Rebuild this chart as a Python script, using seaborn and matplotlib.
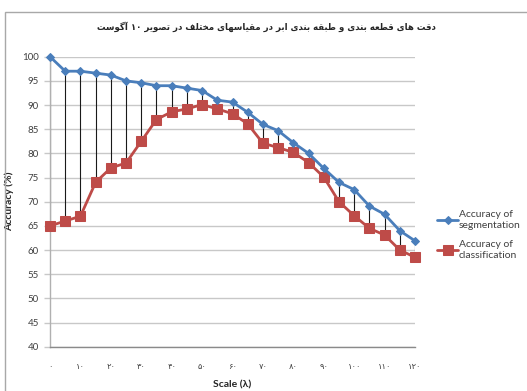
import matplotlib
matplotlib.use("Agg")
import matplotlib.pyplot as plt
from matplotlib.patches import Rectangle
import seaborn as sns

# Scale values (lambda) and the two accuracy series (%)
scale = [0, 5, 10, 15, 20, 25, 30, 35, 40, 45, 50, 55, 60,
         65, 70, 75, 80, 85, 90, 95, 100, 105, 110, 115, 120]
seg_acc = [100, 97, 97, 96.6, 96.2, 95.0, 94.6, 94.0, 94.0, 93.5, 93.0, 91.0, 90.6,
           88.5, 86.0, 84.7, 82.2, 80.0, 76.9, 74.0, 72.5, 69.1, 67.4, 64.0, 61.9]
cls_acc = [65, 66, 67, 74, 77, 78, 82.5, 87, 88.6, 89.2, 90.1, 89.2, 88.2,
           86.1, 82.1, 81.2, 80.2, 78.1, 75.1, 70.0, 67.1, 64.5, 63.1, 60.0, 58.5]

x_ticks = [0, 10, 20, 30, 40, 50, 60, 70, 80, 90, 100, 110, 120]
y_ticks = [40, 45, 50, 55, 60, 65, 70, 75, 80, 85, 90, 95, 100]

title_text = "دقت های قطعه بندی و طبقه بندی ابر در مقیاسهای مختلف در تصویر ۱۰ آگوست"
seg_label = "Accuracy of\nsegmentation"
cls_label = "Accuracy of\nclassification"
x_label = "Scale (λ)"
y_label = "Accuracy (%)"

# --- minimal Arabic-script shaping (isolated, final, initial, medial) ---
FORMS = {
    'ا': ('\uFE8D', '\uFE8E', None, None),
    'آ': ('\uFE81', '\uFE82', None, None),
    'ب': ('\uFE8F', '\uFE90', '\uFE91', '\uFE92'),
    'ت': ('\uFE95', '\uFE96', '\uFE97', '\uFE98'),
    'خ': ('\uFEA5', '\uFEA6', '\uFEA7', '\uFEA8'),
    'د': ('\uFEA9', '\uFEAA', None, None),
    'ر': ('\uFEAD', '\uFEAE', None, None),
    'س': ('\uFEB1', '\uFEB2', '\uFEB3', '\uFEB4'),
    'ص': ('\uFEB9', '\uFEBA', '\uFEBB', '\uFEBC'),
    'ط': ('\uFEC1', '\uFEC2', '\uFEC3', '\uFEC4'),
    'ع': ('\uFEC9', '\uFECA', '\uFECB', '\uFECC'),
    'ف': ('\uFED1', '\uFED2', '\uFED3', '\uFED4'),
    'ق': ('\uFED5', '\uFED6', '\uFED7', '\uFED8'),
    'ل': ('\uFEDD', '\uFEDE', '\uFEDF', '\uFEE0'),
    'م': ('\uFEE1', '\uFEE2', '\uFEE3', '\uFEE4'),
    'ن': ('\uFEE5', '\uFEE6', '\uFEE7', '\uFEE8'),
    'ه': ('\uFEE9', '\uFEEA', '\uFEEB', '\uFEEC'),
    'و': ('\uFEED', '\uFEEE', None, None),
    'ی': ('\uFBFC', '\uFBFD', '\uFBFE', '\uFBFF'),
    'ک': ('\uFB8E', '\uFB8F', '\uFB90', '\uFB91'),
    'گ': ('\uFB92', '\uFB93', '\uFB94', '\uFB95'),
}
DIGITS = '۰۱۲۳۴۵۶۷۸۹'


def shape_word(word):
    out = []
    for i, ch in enumerate(word):
        if ch not in FORMS:
            out.append(ch)
            continue
        iso, fin, ini, med = FORMS[ch]
        prev = word[i - 1] if i > 0 else None
        nxt = word[i + 1] if i + 1 < len(word) else None
        joins_prev = prev in FORMS and FORMS[prev][2] is not None
        joins_next = nxt in FORMS and ini is not None
        if joins_prev and joins_next:
            out.append(med)
        elif joins_prev:
            out.append(fin)
        elif joins_next:
            out.append(ini)
        else:
            out.append(iso)
    return ''.join(out)


def rtl(text):
    words = []
    for w in reversed(text.split(' ')):
        s = shape_word(w)
        if not all(c in DIGITS for c in w):
            s = s[::-1]
        words.append(s)
    return ' '.join(words)


def persian_num(n):
    return str(n).translate(str.maketrans('0123456789', DIGITS))


sns.set_style("white")
plt.rcParams['font.family'] = ['Lato', 'DejaVu Sans']

W, H = 527, 391
fig = plt.figure(figsize=(W / 100, H / 100), dpi=100)
ax = fig.add_axes([50 / W, 1 - 346.7 / H, 365 / W, 290 / H])

blue = '#4A7EBB'
red = '#BE4B48'

# high-low connectors between the two series
ax.vlines(scale, cls_acc, seg_acc, colors='#1a1a1a', linewidth=0.8, zorder=2)

sns.lineplot(x=scale, y=seg_acc, ax=ax, color=blue, linewidth=2.0,
             marker='D', markersize=4.5, markeredgecolor=blue,
             label=seg_label, zorder=4, clip_on=False)
sns.lineplot(x=scale, y=cls_acc, ax=ax, color=red, linewidth=2.0,
             marker='s', markersize=7, markeredgecolor=red,
             label=cls_label, zorder=3, clip_on=False)

ax.set_xlim(0, 120)
ax.set_ylim(40, 100)
ax.set_yticks(y_ticks)
ax.set_xticks(x_ticks)
ax.set_yticklabels([str(v) for v in y_ticks], fontsize=7, color='#404040')
ax.set_xticklabels([persian_num(v) for v in x_ticks], fontsize=6,
                   color='#404040', family=['DejaVu Sans'])

ax.yaxis.grid(True, color='#c8c8c8', linewidth=1.0)
ax.xaxis.grid(False)
ax.set_axisbelow(True)
ax.tick_params(axis='y', length=4, width=1.0, color='#c8c8c8', pad=4, left=True)
ax.tick_params(axis='x', length=0, pad=11)

for side in ['top', 'right']:
    ax.spines[side].set_visible(False)
ax.spines['left'].set_color('#b0b0b0')
ax.spines['bottom'].set_color('#8a8a8a')
ax.spines['left'].set_linewidth(1.0)
ax.spines['bottom'].set_linewidth(1.0)

ax.set_xlabel(x_label, fontsize=7.5, fontweight='bold', labelpad=7)
ax.set_ylabel(y_label, fontsize=7.5, fontweight='bold', labelpad=6)

leg = ax.legend(loc='center left', bbox_to_anchor=(433 / W, 1 - 235 / H),
                bbox_transform=fig.transFigure, frameon=False, fontsize=7.5,
                handlelength=2.0, handletextpad=0.1, labelspacing=1.0,
                borderaxespad=0)
for t in leg.get_texts():
    t.set_color('#404040')

fig.text(266 / W, 1 - 27 / H, rtl(title_text), ha='center', va='center',
         fontsize=6.2, fontweight='bold', family=['DejaVu Sans'])

# chart-area border
fig.patches.append(Rectangle((5 / W, -0.2), 1.2, 1.2 - 12 / H,
                             transform=fig.transFigure, fill=False,
                             edgecolor='#a8a8a8', linewidth=1.0))

fig.savefig('out.png', dpi=100)
